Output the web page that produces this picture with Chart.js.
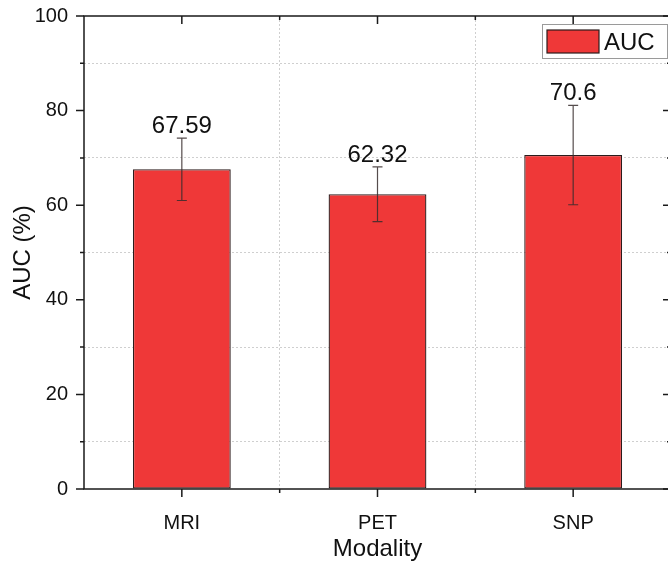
<!DOCTYPE html>
<html>
<head>
<meta charset="utf-8">
<script src="https://cdn.jsdelivr.net/npm/chart.js@4/dist/chart.umd.min.js"></script>
<style>
  html, body { margin: 0; padding: 0; background: #fff; overflow: hidden; }
  #wrap { width: 676px; height: 561px; position: relative; }
</style>
</head>
<body>
<div id="wrap"><canvas id="c"></canvas></div>
<script>
// ---- data ----
const categories = ['MRI', 'PET', 'SNP'];
const aucValues = [67.59, 62.32, 70.6];
const aucErrors = [6.6, 5.8, 10.5];
const valueLabels = ['67.59', '62.32', '70.6'];
const yTickLabels = [0, 20, 40, 60, 80, 100];
const seriesName = 'AUC';

const FONT = '"Liberation Sans", Arial, sans-serif';
const RED = '#EF3838';
const EDGE = '#2b1c1c';

const overlay = {
  id: 'overlay',
  afterDatasetsDraw(chart) {
    const ctx = chart.ctx;
    const xs = chart.scales.x;
    const ys = chart.scales.y;
    ctx.save();
    aucValues.forEach((v, i) => {
      const x = xs.getPixelForValue(i);
      const yt = ys.getPixelForValue(v + aucErrors[i]);
      const yb = ys.getPixelForValue(v - aucErrors[i]);
      ctx.strokeStyle = 'rgba(55,45,45,0.85)';
      ctx.lineWidth = 1.2;
      ctx.beginPath();
      ctx.moveTo(x, yt); ctx.lineTo(x, yb);
      ctx.moveTo(x - 5, yt); ctx.lineTo(x + 5, yt);
      ctx.moveTo(x - 5, yb); ctx.lineTo(x + 5, yb);
      ctx.stroke();
      ctx.fillStyle = '#111';
      ctx.font = '24px ' + FONT;
      ctx.textAlign = 'center';
      ctx.textBaseline = 'alphabetic';
      ctx.fillText(valueLabels[i], x, yt - 5);
    });
    ctx.restore();
  },
  afterDraw(chart) {
    const ctx = chart.ctx;
    const ca = chart.chartArea;
    const xs = chart.scales.x;
    const ys = chart.scales.y;
    ctx.save();
    ctx.strokeStyle = '#1a1a1a';
    ctx.lineWidth = 1.5;
    ctx.strokeRect(ca.left, ca.top, ca.right - ca.left, ca.bottom - ca.top);
    ctx.beginPath();
    for (let v = 0; v <= 100; v += 10) {
      const y = ys.getPixelForValue(v);
      const len = (v % 20 === 0) ? 8 : 4;
      ctx.moveTo(ca.left - len, y); ctx.lineTo(ca.left, y);
      ctx.moveTo(ca.right - len, y); ctx.lineTo(ca.right, y);
    }
    categories.forEach((c, i) => {
      const x = xs.getPixelForValue(i);
      ctx.moveTo(x, ca.bottom); ctx.lineTo(x, ca.bottom + 8);
      ctx.moveTo(x, ca.top); ctx.lineTo(x, ca.top + 8);
    });
    for (let i = 1; i < categories.length; i++) {
      const x = (xs.getPixelForValue(i - 1) + xs.getPixelForValue(i)) / 2;
      ctx.moveTo(x, ca.bottom); ctx.lineTo(x, ca.bottom + 4);
      ctx.moveTo(x, ca.top); ctx.lineTo(x, ca.top + 4);
    }
    ctx.stroke();
    // legend
    const lx = 542, ly = 24, lw = 125, lh = 34;
    ctx.lineWidth = 1;
    ctx.strokeStyle = '#9a9a9a';
    ctx.fillStyle = '#fff';
    ctx.fillRect(lx, ly, lw, lh);
    ctx.strokeRect(lx + 0.5, ly + 0.5, lw, lh);
    ctx.fillStyle = RED;
    ctx.fillRect(547, 30, 52, 23);
    ctx.strokeStyle = EDGE;
    ctx.lineWidth = 1.2;
    ctx.strokeRect(547, 30, 52, 23);
    ctx.fillStyle = '#111';
    ctx.font = '24px ' + FONT;
    ctx.textAlign = 'left';
    ctx.textBaseline = 'alphabetic';
    ctx.fillText(seriesName, 604, 50);
    ctx.restore();
  }
};

new Chart(document.getElementById('c'), {
  type: 'bar',
  data: {
    labels: categories,
    datasets: [{
      label: seriesName,
      data: aucValues,
      backgroundColor: RED,
      borderColor: EDGE,
      borderWidth: 1.3,
      borderSkipped: false,
      barPercentage: 0.5,
      categoryPercentage: 1.0
    }]
  },
  options: {
    responsive: true,
    maintainAspectRatio: false,
    animation: false,
    devicePixelRatio: 1,
    layout: { padding: { top: 16, right: 5, left: 0, bottom: 0 } },
    plugins: { legend: { display: false }, tooltip: { enabled: false } },
    scales: {
      x: {
        offset: true,
        grid: {
          offset: true,
          drawTicks: false,
          color: (c) => (c.index === 0 || c.index >= categories.length) ? 'rgba(0,0,0,0)' : '#cfcfcf',
          lineWidth: 1
        },
        border: { display: false, dash: [2, 2] },
        ticks: { color: '#111', font: { family: FONT, size: 20 }, padding: 22 },
        title: { display: true, text: 'Modality', color: '#111', font: { family: FONT, size: 24 }, padding: { top: 0, bottom: -3 } },
        afterFit(scale) { scale.height = 72; scale.paddingLeft = 0; scale.paddingRight = 0; }
      },
      y: {
        min: 0,
        max: 100,
        ticks: {
          stepSize: 10,
          color: '#111',
          font: { family: FONT, size: 20 },
          padding: 16,
          callback: (v) => (yTickLabels.includes(v) ? String(v) : '')
        },
        grid: {
          drawTicks: false,
          color: (c) => (c.tick && c.tick.value % 20 !== 0) ? '#cfcfcf' : 'rgba(0,0,0,0)',
          lineWidth: 1
        },
        border: { display: false, dash: [2, 2] },
        title: { display: true, text: 'AUC (%)', color: '#111', font: { family: FONT, size: 24 }, padding: { top: 9, bottom: 0 } },
        afterFit(scale) { scale.width = 84; scale.paddingTop = 0; scale.paddingBottom = 0; }
      }
    }
  },
  plugins: [overlay]
});
</script>
</body>
</html>
